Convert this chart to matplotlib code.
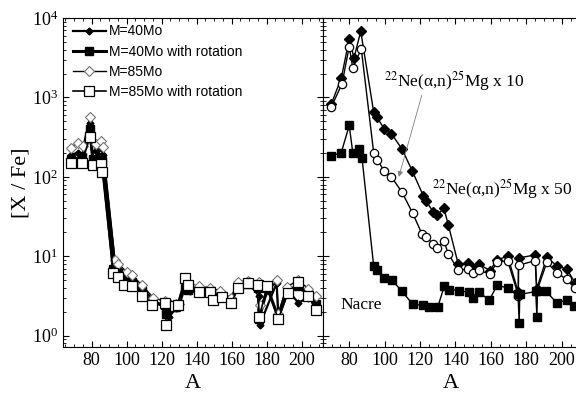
import numpy as np
import matplotlib
matplotlib.use("Agg")
import matplotlib.pyplot as plt
from matplotlib.ticker import MultipleLocator

plt.rcParams['font.family'] = ['Liberation Serif', 'DejaVu Serif']
plt.rcParams['mathtext.fontset'] = 'stix'

# ---- left panel: model yields ----
a_m40 = [68, 72, 75, 79, 82.6, 85.5, 86.5, 93.3, 95.2, 100, 102.9, 108.9, 115.2, 121.9, 124,
         128, 130, 133.5, 136, 141.3, 147.6, 153.3, 159.6, 163.4, 169.5, 175.5, 176, 185.7,
         186.6, 191.4, 198, 203.8, 208]
m40 = [190, 200, 195, 470, 210, 230, 190, 8.0, 7.0, 5.6, 5.2, 3.9, 2.8, 2.3, 1.7,
       2.2, 2.4, 4.2, 3.6, 3.8, 3.7, 3.4, 2.8, 4.4, 4.6, 3.2, 1.36, 4.6,
       1.8, 3.9, 2.6, 3.0, 2.6]
m85 = [234, 270, 245, 565, 258, 280, 235, 9.1, 8.1, 6.3, 5.8, 4.3, 3.0, 2.7, 2.6,
       2.5, 2.5, 4.8, 4.4, 4.2, 4.0, 3.7, 3.0, 4.8, 4.9, 4.8, 2.4, 5.0,
       1.9, 4.1, 5.0, 3.9, 3.2]

a_rot = [68.3, 74.5, 78.9, 80.7, 85.1, 86.1, 92.3, 94.9, 98.6, 102.9, 108.6, 114.3, 121.9,
         122.5, 127.6, 129.1, 133.3, 135.2, 141.3, 147.6, 149.1, 154.3, 159.6, 163.8, 169.5,
         175.2, 175.6, 180.4, 186.6, 192, 197.7, 203.8, 208]
m40rot = [170, 170, 400, 170, 180, 160, 7.0, 6.2, 5.0, 4.7, 3.6, 2.6, 2.4,
          1.9, 2.3, 2.4, 4.4, 3.8, 3.7, 3.6, 3.2, 3.2, 2.7, 4.2, 4.5,
          4.0, 1.6, 4.0, 1.7, 3.6, 4.2, 3.3, 2.5]
m85rot = [151, 151, 315, 141, 146, 115, 6.2, 5.5, 4.4, 4.2, 3.2, 2.4, 2.6,
          1.35, 2.35, 2.46, 5.4, 4.3, 3.5, 3.5, 2.8, 3.1, 2.57, 4.0, 4.6,
          4.3, 1.7, 4.2, 1.6, 3.4, 4.7, 3.2, 2.1]

# ---- right panel: rate tests ----
a_x10 = [69.9, 75.5, 80, 82.7, 86.5, 93.8, 95.7, 99.8, 103.8, 109.8, 115.5, 121.8, 123.5,
         127.5, 129.4, 133.5, 136, 141.6, 147.3, 150.1, 153.5, 159.5, 163.3, 169.5, 175.5,
         175.6, 185, 185.9, 191.6, 197.2, 202.9, 207.6]
x10 = [830, 1750, 5400, 3150, 6800, 655, 563, 400, 350, 224, 120, 58, 49,
       36, 33, 40, 24.6, 7.9, 8.2, 6.9, 7.9, 6.6, 9.0, 10.0, 3.5,
       9.5, 10.4, 3.9, 9.7, 7.6, 6.9, 4.6]
a_x50 = [69.9, 75.9, 80, 82, 86.8, 93.8, 95.7, 99.8, 103.8, 109.8, 115.8, 121.1, 123.4,
         127.5, 129.4, 133.5, 136, 141.6, 147.3, 150.1, 153.5, 159.5, 163.3, 169.5, 175.5,
         175.6, 185, 185.9, 191.6, 197.2, 202.9, 207.6]
x50 = [760, 1480, 4360, 2350, 4100, 202, 165, 118, 100, 64, 35, 19, 17.3,
       14.3, 12.6, 15.4, 10.7, 6.7, 6.9, 6.2, 6.7, 5.9, 8.4, 8.8, 3.2,
       7.7, 8.8, 3.6, 8.4, 6.2, 5.1, 4.0]
a_nacre = [69.9, 75.5, 80, 82, 85.7, 87.2, 93.8, 95.7, 99.8, 104.2, 109.8, 115.8, 121.8,
           125.2, 130, 133.7, 136.2, 142.2, 147.8, 149.7, 153.5, 159.1, 163.5, 169.5,
           175.3, 176, 176.3, 185.3, 186, 186.3, 191.2, 197.2, 202.9, 207.1]
nacre = [183, 202, 443, 202, 223, 174, 7.6, 6.8, 5.4, 5.0, 3.6, 2.5, 2.4,
         2.3, 2.3, 4.2, 3.8, 3.7, 3.5, 3.0, 3.5, 2.8, 4.3, 4.0,
         3.3, 1.43, 3.3, 3.6, 1.74, 3.6, 3.6, 2.6, 2.8, 2.34]

fig = plt.figure(figsize=(5.76, 4), dpi=100)
ax1 = fig.add_axes([0.1094, 0.1325, 0.4508, 0.8225])
ax2 = fig.add_axes([0.5602, 0.1325, 0.4448, 0.8225], sharey=ax1)

ax1.plot(a_m40, m40, '-D', color='k', lw=1.6, ms=3.5, label='M=40Mo')
ax1.plot(a_rot, m40rot, '-s', color='k', lw=2.2, ms=6, label='M=40Mo with rotation')
ax1.plot(a_m40, m85, '-D', color='k', lw=1.0, ms=5.5, mfc='white', mec='0.45', mew=0.8,
         label='M=85Mo')
ax1.plot(a_rot, m85rot, '-s', color='k', lw=1.2, ms=7, mfc='white', mec='k', mew=0.9,
         label='M=85Mo with rotation')

leg = ax1.legend(loc='upper left', bbox_to_anchor=(0.0, 1.01), frameon=False,
                 prop={'family': 'Liberation Sans', 'size': 10},
                 handlelength=2.4, handletextpad=0.2, labelspacing=0.45, borderaxespad=0.3)

ax2.plot(a_x10, x10, '-D', color='k', lw=1.0, ms=5)
ax2.plot(a_x50, x50, '-o', color='k', lw=1.0, ms=6, mfc='white', mew=0.9)
ax2.plot(a_nacre, nacre, '-s', color='k', lw=1.0, ms=5.5)

ax2.text(99.6, 1620, r'$^{22}$Ne(α,n)$^{25}$Mg x 10', fontsize=12.5, va='center', ha='left')
ax2.text(127, 71, r'$^{22}$Ne(α,n)$^{25}$Mg x 50', fontsize=12.5, va='center', ha='left')
ax2.text(75.3, 2.45, 'Nacre', fontsize=12.5, va='center', ha='left')
ax2.annotate('', xy=(108, 100), xytext=(121, 1070),
             arrowprops=dict(arrowstyle='-|>', color='0.5', lw=0.6, mutation_scale=8,
                             shrinkA=0, shrinkB=0))

for ax in (ax1, ax2):
    ax.set_yscale('log')
    ax.xaxis.set_major_locator(MultipleLocator(20))
    ax.xaxis.set_minor_locator(MultipleLocator(5))
    ax.tick_params(which='both', direction='in', top=True, right=True, labelsize=13)
    ax.tick_params(which='major', length=4, width=0.8)
    ax.tick_params(which='minor', length=2, width=0.6)
    ax.set_xlabel('A', fontsize=16, labelpad=4)

ax1.set_ylim(0.72, 1e4)
ax1.set_xlim(63.6, 212)
ax2.set_xlim(65, 209.7)
ax1.set_ylabel('[X / Fe]', fontsize=16, labelpad=1)
ax2.tick_params(axis='y', which='both', labelleft=False, right=False)
ax2.spines['right'].set_visible(False)

fig.savefig('out.png', dpi=100)
